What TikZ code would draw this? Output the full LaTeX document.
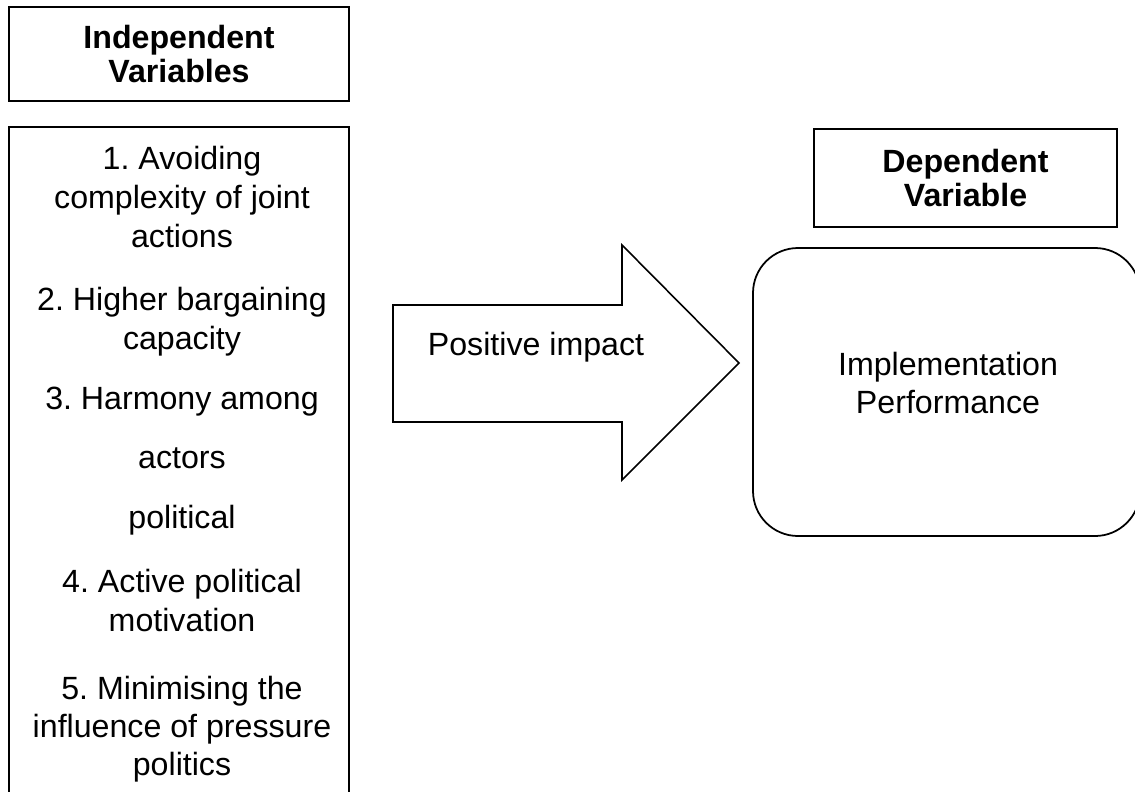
\documentclass[tikz,border=0pt]{standalone}
\usepackage{fontspec}
\setmainfont{Liberation Sans}
\usepackage{tikz}
\usetikzlibrary{positioning}
\frenchspacing

\begin{document}
\begin{tikzpicture}[
  x=1cm,y=1cm,
  font=\fontsize{18.3}{21.5}\selectfont,
  head/.style={draw, line width=1.1pt, align=center, inner sep=0pt,
    font=\fontsize{18.3}{19.9}\selectfont\bfseries},
  frame/.style={draw, line width=1.1pt, inner sep=0pt},
  item/.style={anchor=base, inner sep=0pt},
  perfbox/.style={draw, line width=1pt, rounded corners=0.9cm, inner sep=0pt},
  bigarrow/.style={draw, line width=0.9pt, line join=miter}
]
\useasboundingbox (0,0) rectangle (22.7,-15.82);
\clip (0,0) rectangle (22.7,-15.82);

% left column: independent variables
\node[head, minimum width=6.8cm, minimum height=1.88cm] (ivhead) at (3.58,-1.08)
  {Independent\\Variables};
\node[frame, minimum width=6.8cm, minimum height=13.8cm] (ivlist) at (3.58,-9.44) {};

\foreach \yy/\txt [count=\i] in {
  3.38/{1. Avoiding}, 4.16/{complexity of joint}, 4.94/{actions},
  6.20/{2. Higher bargaining}, 6.98/{capacity},
  8.18/{3. Harmony among}, 9.36/{actors}, 10.56/{political},
  11.84/{4. Active political}, 12.62/{motivation},
  13.98/{5. Minimising the}, 14.74/{influence of pressure}, 15.50/{politics}} {
  \node[item] (iv\i) at (3.64,-\yy) {\txt};
}

% block arrow in the middle
\draw[bigarrow] (7.86,-6.10) -- (12.44,-6.10) -- (12.44,-4.90) -- (14.78,-7.26)
  -- (12.44,-9.60) -- (12.44,-8.44) -- (7.86,-8.44) -- cycle;
\node[item] (impact) at (10.72,-7.10) {Positive impact};

% right column: dependent variable
\node[head, minimum width=6.06cm, minimum height=1.96cm] (dvhead) at (19.31,-3.56)
  {Dependent\\Variable};
\node[perfbox, minimum width=7.74cm, minimum height=5.76cm] (perf) at (18.93,-7.84) {};
\node[align=center, inner sep=0pt] (perftext) at (18.96,-7.66)
  {Implementation\\Performance};

\end{tikzpicture}
\end{document}
